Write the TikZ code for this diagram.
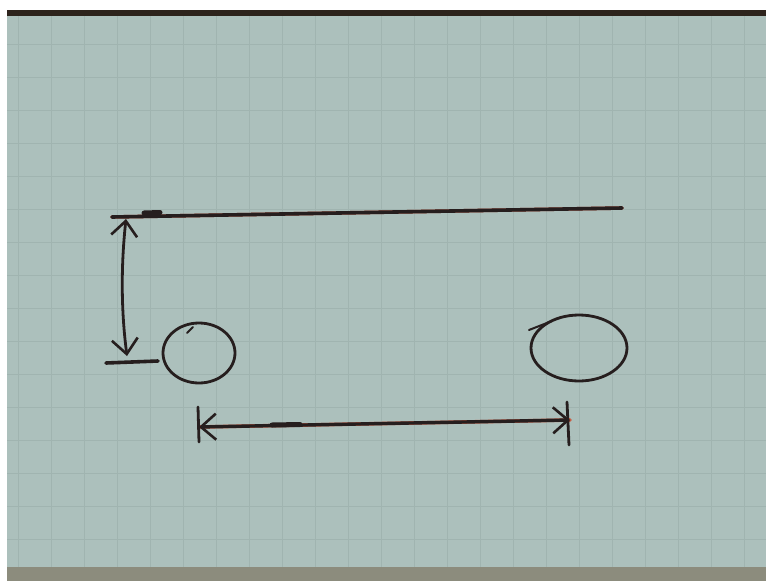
\documentclass[tikz,border=0pt]{standalone}
\usetikzlibrary{arrows.meta,shapes.geometric}
\definecolor{paper}{RGB}{172,192,188}
\definecolor{gridc}{RGB}{160,180,176}
\definecolor{ink}{RGB}{38,30,30}
\definecolor{fringe}{RGB}{200,95,70}
\definecolor{topband}{RGB}{45,35,28}
\definecolor{botband}{RGB}{140,140,125}
\tikzset{
  pen/.style={draw=ink,line width=3.6pt,line cap=round,line join=round},
  thinpen/.style={draw=ink,line width=2.8pt,line cap=round},
  redge/.style={draw=fringe,line width=3.6pt,line cap=round,shift={(0,1.6)}},
  barbs/.style={{Straight Barb[length=15pt,width=26pt,line width=2.6pt]}-{Straight Barb[length=15pt,width=26pt,line width=2.6pt]}},
  ring/.style={ellipse,draw=ink,line width=2.8pt,inner sep=0pt}
}
\begin{document}
\begin{tikzpicture}[x=1pt,y=-1pt]
\useasboundingbox (0,0) rectangle (766,581);
% background
\fill[white] (0,0) rectangle (766,581);
\fill[paper] (7,16) rectangle (766,567);
\fill[topband] (7,10) rectangle (766,16);
\fill[botband] (7,567) rectangle (766,581);
% grid
\begin{scope}
\clip (7,16) rectangle (766,567);
\foreach \gx in {18,51,...,766} \draw[gridc,line width=0.8pt] (\gx,16) -- (\gx,567);
\foreach \gy in {11,44,...,581} \draw[gridc,line width=0.8pt] (7,\gy) -- (766,\gy);
\end{scope}
% coordinates
\coordinate (tl) at (112,217);
\coordinate (tr) at (622,208);
\coordinate (vt) at (126,219);
\coordinate (vb) at (127,356);
\coordinate (bl) at (106,363);
\coordinate (br) at (158,361);
\coordinate (hl) at (199,427);
\coordinate (hr) at (570,420);
\coordinate (lt1) at (198,407);
\coordinate (lt2) at (199,442);
\coordinate (rt1) at (567,402);
\coordinate (rt2) at (569,445);
% top reference line
\draw[redge] (tl) -- (tr);
\draw[pen] (tl) -- (tr);
\draw[pen,line width=5pt] (144,213) -- (160,212.5);
% vertical dimension arrow
\draw[thinpen,barbs] (vt) .. controls (121,265) and (121,310) .. (vb);
% short bar
\draw[pen] (bl) -- (br);
% circles
\node[ring,minimum width=72pt,minimum height=60pt] (c1) at (199,353) {};
\node[ring,minimum width=96pt,minimum height=66pt] (c2) at (579,348) {};
\draw[thinpen,line width=2pt] (187,333) -- (193,327);
\draw[thinpen,line width=2pt] (529,330) -- (552,321);
% horizontal dimension arrow
\draw[redge] (hl) -- (hr);
\draw[thinpen,line width=3.4pt,barbs] (hl) -- (hr);
\draw[pen,line width=5pt] (272,425) -- (300,424.5);
\draw[thinpen] (lt1) -- (lt2);
\draw[thinpen] (rt1) -- (rt2);
\end{tikzpicture}
\end{document}
